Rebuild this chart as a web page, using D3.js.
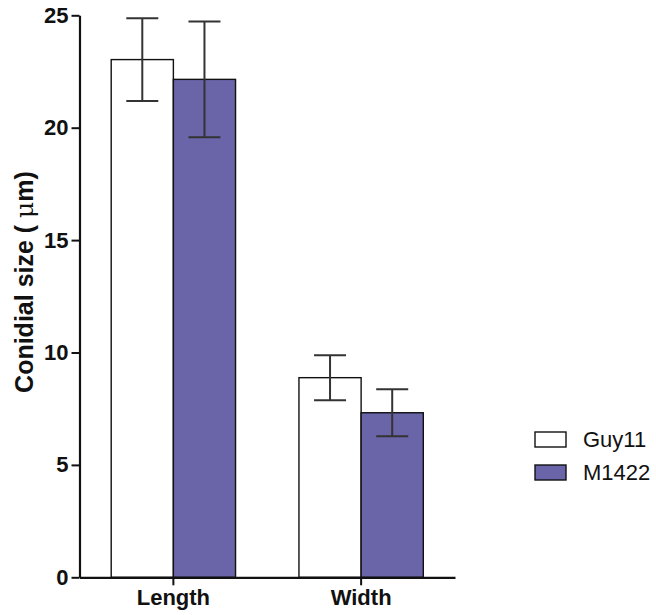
<!DOCTYPE html>
<html><head><meta charset="utf-8">
<script src="https://cdn.jsdelivr.net/npm/d3@7"></script>
<style>body{margin:0;background:#fff}svg{display:block}</style>
</head><body>
<svg id="c" width="656" height="615"></svg>
<script>
const categories = ["Length", "Width"];
const series = ["Guy11", "M1422"];
const guy11Mean = [23.03, 8.88];
const guy11Err = [1.84, 1.0];
const m1422Mean = [22.15, 7.32];
const m1422Err = [2.57, 1.04];
const yTicks = [0, 5, 10, 15, 20, 25];
const colors = {Guy11: "#ffffff", M1422: "#6a64a9"};

const means = {Guy11: guy11Mean, M1422: m1422Mean};
const errs = {Guy11: guy11Err, M1422: m1422Err};

const svg = d3.select("#c");
const mLeft = 79.5, mRight = 455, mTop = 15.3, mBottom = 577.3;
const font = "Arial, 'Liberation Sans', sans-serif";

const y = d3.scaleLinear().domain([0, 25]).range([mBottom, mTop]);
const x0 = d3.scaleBand().domain(categories).range([mLeft, mRight]).padding(0);
const x1 = d3.scaleBand().domain(series).range([0, x0.bandwidth()]).paddingInner(0).paddingOuter(0.51);

const data = [];
categories.forEach((c, i) => series.forEach(s => data.push({c, s, v: means[s][i], e: errs[s][i]})));

// bars
svg.append("g").selectAll("rect").data(data).join("rect")
  .attr("x", d => x0(d.c) + x1(d.s))
  .attr("y", d => y(d.v))
  .attr("width", x1.bandwidth())
  .attr("height", d => y(0) - y(d.v))
  .attr("fill", d => colors[d.s])
  .attr("stroke", "#111")
  .attr("stroke-width", 1.4);

// error bars
const capW = 32;
const eg = svg.append("g").attr("stroke", "#333").attr("stroke-width", 2).attr("fill", "none");
data.forEach(d => {
  const cx = x0(d.c) + x1(d.s) + x1.bandwidth() / 2;
  eg.append("line").attr("x1", cx).attr("x2", cx).attr("y1", y(d.v + d.e)).attr("y2", y(d.v - d.e));
  eg.append("line").attr("x1", cx - capW / 2).attr("x2", cx + capW / 2).attr("y1", y(d.v + d.e)).attr("y2", y(d.v + d.e));
  eg.append("line").attr("x1", cx - capW / 2).attr("x2", cx + capW / 2).attr("y1", y(d.v - d.e)).attr("y2", y(d.v - d.e));
});

// y axis
const ya = svg.append("g").attr("transform", `translate(${mLeft},0)`)
  .call(d3.axisLeft(y).tickValues(yTicks).tickSize(8).tickSizeOuter(0).tickPadding(3));
ya.select(".domain").attr("stroke", "#111").attr("stroke-width", 2.2);
ya.selectAll(".tick line").attr("stroke", "#111").attr("stroke-width", 2);
ya.selectAll("text").attr("font-family", font).attr("font-size", 22).attr("font-weight", "bold").attr("fill", "#111");

// x axis
const xa = svg.append("g").attr("transform", `translate(0,${mBottom})`)
  .call(d3.axisBottom(x0).tickSize(8).tickSizeOuter(0).tickPadding(4));
xa.select(".domain").attr("stroke", "#111").attr("stroke-width", 2.2);
xa.selectAll(".tick line").attr("stroke", "#111").attr("stroke-width", 2);
xa.selectAll("text").attr("font-family", font).attr("font-size", 22).attr("font-weight", "bold").attr("fill", "#111");

// y label
const yl = svg.append("text")
  .attr("transform", `translate(33,282) rotate(-90)`)
  .attr("text-anchor", "middle")
  .attr("font-family", font).attr("font-size", 25).attr("font-weight", "bold").attr("fill", "#111");
yl.append("tspan").text("Conidial size ( ");
yl.append("tspan").attr("font-weight", "normal").attr("font-family", "'DejaVu Serif', serif").text("μ");
yl.append("tspan").text("m)");

// legend
const lg = svg.append("g").attr("transform", "translate(535,432)");
series.forEach((s, i) => {
  const g = lg.append("g").attr("transform", `translate(0,${i * 33})`);
  g.append("rect").attr("width", 31).attr("height", 15).attr("fill", colors[s]).attr("stroke", "#111").attr("stroke-width", 1.4);
  g.append("text").attr("x", 48).attr("y", 15).attr("font-family", font).attr("font-size", 22).attr("fill", "#111").text(s);
});
</script>
</body></html>
